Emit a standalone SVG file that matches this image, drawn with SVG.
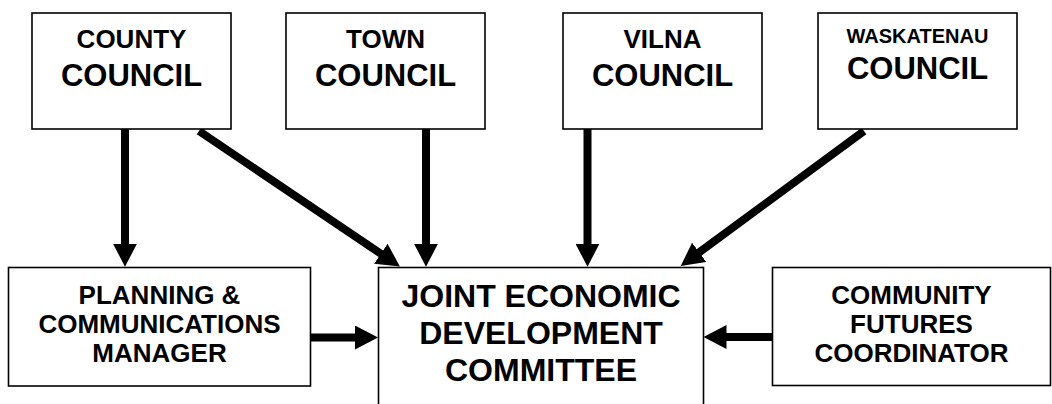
<svg xmlns="http://www.w3.org/2000/svg" width="1052" height="404" viewBox="0 0 1052 404">
<style>
.box{fill:#fff;stroke:#000;stroke-width:1.6}
text{font-family:"Liberation Sans",Arial,sans-serif;font-weight:bold;fill:#000;text-anchor:middle}
.s20{font-size:20px}.s26{font-size:26px}.s31{font-size:31px}.s32{font-size:32px}
.c{stroke:#000;stroke-width:8;fill:none;marker-end:url(#ah)}
</style>
<defs>
<marker id="ah" markerUnits="userSpaceOnUse" markerWidth="23" markerHeight="24" viewBox="0 0 23 24" refX="5" refY="12" orient="auto">
<path d="M0,0 L23,12 L0,24 Z" fill="#000"/>
</marker>
</defs>
<rect width="1052" height="404" fill="#fff"/>
<g id="connectors">
<line class="c" x1="125" y1="129" x2="125" y2="248.7"/>
<line class="c" x1="199" y1="131" x2="385" y2="256.5"/>
<line class="c" x1="426" y1="129" x2="426" y2="248.7"/>
<line class="c" x1="587.5" y1="129" x2="587.5" y2="248.7"/>
<line class="c" x1="864" y1="131" x2="695.2" y2="255.3"/>
<line class="c" x1="311" y1="337.5" x2="360" y2="337.5"/>
<line class="c" x1="772" y1="337" x2="721.5" y2="337"/>
</g>
<g id="county">
<rect class="box" x="32" y="13" width="199" height="116"/>
<text class="s26" x="131.5" y="48">COUNTY</text>
<text class="s31" x="131.5" y="86">COUNCIL</text>
</g>
<g id="town">
<rect class="box" x="286" y="13" width="199" height="116"/>
<text class="s26" x="385.5" y="48">TOWN</text>
<text class="s31" x="385.5" y="86">COUNCIL</text>
</g>
<g id="vilna">
<rect class="box" x="563" y="13" width="199" height="116"/>
<text class="s26" x="662.5" y="48">VILNA</text>
<text class="s31" x="662.5" y="86">COUNCIL</text>
</g>
<g id="waskatenau">
<rect class="box" x="818" y="13" width="199" height="116"/>
<text class="s20" x="917.5" y="43">WASKATENAU</text>
<text class="s31" x="917.5" y="79">COUNCIL</text>
</g>
<g id="planning">
<rect class="box" x="8.5" y="267.5" width="302" height="118.5"/>
<text class="s26" x="159.5" y="304">PLANNING &amp;</text>
<text class="s26" x="159.5" y="333">COMMUNICATIONS</text>
<text class="s26" x="159.5" y="362">MANAGER</text>
</g>
<g id="jedc">
<rect class="box" x="378.5" y="267.5" width="325" height="150"/>
<text class="s32" x="541" y="306.7">JOINT ECONOMIC</text>
<text class="s32" x="541" y="344.3">DEVELOPMENT</text>
<text class="s32" x="541" y="381">COMMITTEE</text>
</g>
<g id="community">
<rect class="box" x="772.5" y="267.5" width="278" height="118"/>
<text class="s26" x="911.5" y="304">COMMUNITY</text>
<text class="s26" x="911.5" y="333">FUTURES</text>
<text class="s26" x="911.5" y="362">COORDINATOR</text>
</g>
</svg>
